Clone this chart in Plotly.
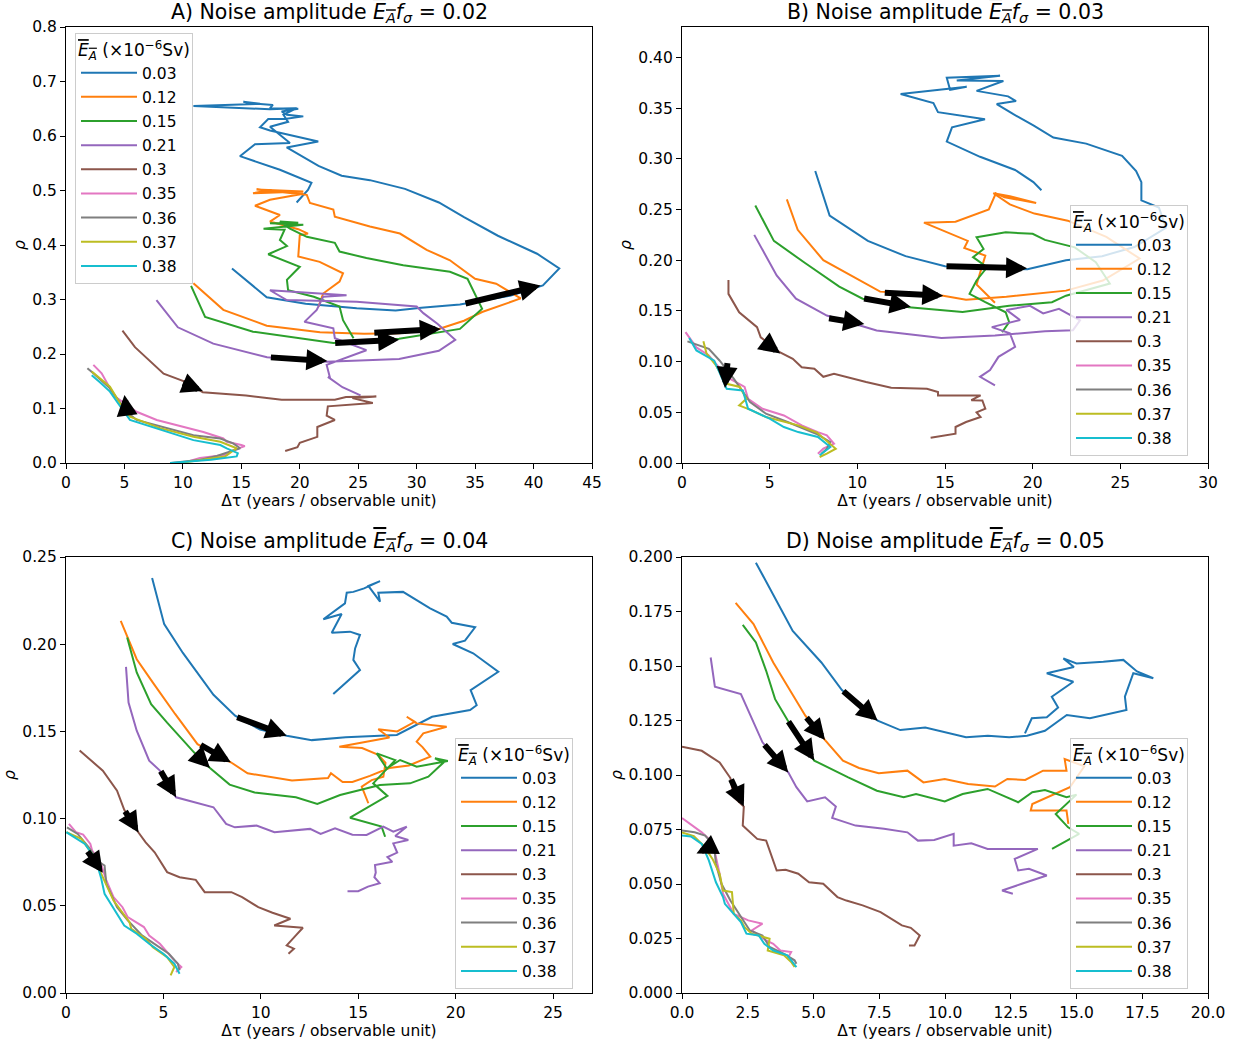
import plotly.graph_objects as go

# ---------------- categories / labels ----------------
E_LABELS = ["0.03", "0.12", "0.15", "0.21", "0.3", "0.35", "0.36", "0.37", "0.38"]
COLORS = ["#1f77b4", "#ff7f0e", "#2ca02c", "#9467bd", "#8c564b",
          "#e377c2", "#7f7f7f", "#bcbd22", "#17becf"]
PANEL_TITLES = ["A", "B", "C", "D"]
NOISE = ["0.02", "0.03", "0.04", "0.05"]

# ---------------- Panel A (noise 0.02): (delta_tau, rho) ----------------
A_003 = [(14.2,0.357),(17.17,0.304),(20.5,0.292),(24.87,0.284),(28.2,0.280),(30.4,0.285),(33.7,0.291),
         (38.0,0.307),(40.8,0.326),(42.2,0.357),(40.3,0.384),(36.95,0.417),(34.05,0.451),(31.9,0.478),
         (29.0,0.503),(26.0,0.519),(23.58,0.527),(21.6,0.545),(18.88,0.579),(21.58,0.590),(17.45,0.610),
         (16.6,0.616),(17.3,0.631),(18.7,0.631),(20.3,0.636),(18.9,0.639),(18.45,0.645),(19.87,0.650),
         (17.45,0.651),(17.7,0.657),(15.74,0.660),(15.17,0.663),(16.6,0.659),(10.9,0.655),(17.45,0.649),
         (19.73,0.651),(18.6,0.639),(19.0,0.626),(17.45,0.617),(19.16,0.587),(16.17,0.585),(14.88,0.563),
         (18.3,0.538),(21.0,0.514),(20.7,0.501),(19.73,0.478)]
A_012 = [(10.9,0.330),(13.46,0.281),(17.17,0.252),(21.73,0.240),(25.5,0.237),(28.5,0.238),(31.9,0.246),
         (34.05,0.261),(35.6,0.277),(38.9,0.302),(36.8,0.329),(35.0,0.338),(33.1,0.368),(32.85,0.372),
         (30.85,0.391),(28.57,0.421),(26.0,0.434),(23.0,0.452),(22.87,0.465),(20.87,0.477),(20.6,0.492),
         (16.3,0.502),(20.3,0.498),(16.0,0.495),(17.45,0.501),(20.3,0.494),(17.45,0.483),(16.17,0.472),
         (18.3,0.455),(17.45,0.443),(19.87,0.429),(20.7,0.421),(20.0,0.418),(19.87,0.379),(21.7,0.369),
         (23.7,0.348),(23.4,0.333),(22.0,0.311),(21.6,0.287)]
A_015 = [(10.7,0.325),(11.9,0.268),(16.0,0.241),(22.87,0.220),(28.5,0.228),(33.7,0.246),(35.6,0.283),
         (34.35,0.338),(32.85,0.351),(28.85,0.363),(25.7,0.376),(23.4,0.388),(23.0,0.404),(20.6,0.415),
         (19.16,0.430),(18.3,0.443),(19.87,0.441),(17.45,0.440),(20.3,0.437),(16.9,0.430),(18.7,0.428),
         (18.3,0.409),(18.9,0.398),(17.3,0.383),(20.0,0.360),(18.9,0.336),(19.0,0.317),(21.2,0.305),
         (23.4,0.287),(23.7,0.262),(24.6,0.229)]
A_021 = [(7.74,0.299),(9.57,0.249),(12.6,0.219),(17.2,0.194),(22.3,0.186),(25.5,0.188),(28.5,0.191),
         (31.9,0.206),(33.3,0.226),(31.8,0.255),(30.57,0.275),(30.0,0.287),(24.87,0.296),(18.88,0.299),
         (17.45,0.317),(24.0,0.308),(22.0,0.305),(21.45,0.281),(20.4,0.259),(22.87,0.247),(23.0,0.229),
         (25.7,0.207),(22.3,0.180),(22.6,0.155),(22.4,0.158),(23.65,0.139),(25.2,0.124)]
A_030 = [(4.83,0.243),(5.9,0.2125),(8.35,0.164),(10.34,0.148),(11.7,0.130),(13.25,0.127),(15.4,0.124),
         (18.45,0.116),(23.0,0.116),(23.95,0.121),(26.55,0.122),(24.5,0.119),(26.25,0.110),(22.4,0.104),
         (22.3,0.087),(23.0,0.079),(21.5,0.066),(21.5,0.048),(20.0,0.037),(19.8,0.029),(18.75,0.022)]
A_035 = [(10.3,0.002),(11.46,0.009),(13.75,0.015),(14.0,0.021),(15.3,0.031),(15.0,0.033),(13.75,0.039),
         (13.46,0.045),(11.75,0.057),(9.75,0.068),(7.76,0.079),(6.04,0.094),(4.19,0.122),(3.76,0.137),
         (3.05,0.1645),(2.34,0.180)]
A_036 = [(9.0,0.000),(11.5,0.006),(12.9,0.013),(14.9,0.027),(14.3,0.036),(13.2,0.045),(10.9,0.051),
         (8.04,0.067),(6.04,0.079),(5.19,0.094),(3.76,0.137),(2.34,0.1645),(1.83,0.174)]
A_037 = [(9.75,0.000),(11.46,0.005),(13.6,0.012),(14.6,0.027),(13.2,0.039),(10.9,0.048),(8.04,0.064),
         (5.47,0.085),(4.6,0.110),(3.76,0.140),(2.2,0.168)]
A_038 = [(8.9,0.000),(10.3,0.002),(12.4,0.006),(14.6,0.012),(14.7,0.018),(13.75,0.027),(13.2,0.033),
         (10.9,0.042),(8.04,0.061),(5.47,0.079),(4.6,0.105),(3.76,0.131),(2.9,0.148),(2.2,0.161)]

# ---------------- Panel B (noise 0.03) ----------------
B_003 = [(7.6,0.288),(8.42,0.244),(10.6,0.219),(12.75,0.204),(15.0,0.194),(19.7,0.191),(21.9,0.200),
         (23.96,0.204),(25.8,0.213),(27.6,0.232),(27.2,0.252),(26.2,0.259),(26.2,0.277),(25.9,0.288),
         (25.1,0.303),(23.05,0.315),(21.18,0.321),(20.04,0.333),(18.9,0.344),(17.95,0.354),(19.05,0.357),
         (18.6,0.3616),(16.8,0.367),(18.33,0.3767),(15.67,0.3773),(18.14,0.382),(15.1,0.380),(15.29,0.368),
         (16.24,0.371),(12.47,0.364),(14.34,0.355),(14.6,0.346),(17.28,0.339),(15.4,0.331),(15.1,0.317),
         (17.0,0.302),(19.0,0.289),(20.04,0.277),(20.5,0.269)]
B_012 = [(5.98,0.260),(6.6,0.230),(8.06,0.200),(9.49,0.186),(11.3,0.169),(14.9,0.165),(16.2,0.161),
         (18.5,0.164),(21.9,0.170),(24.0,0.180),(26.1,0.2017),(24.2,0.223),(22.0,0.239),(20.1,0.246),
         (18.7,0.255),(17.76,0.266),(18.7,0.263),(20.2,0.2565),(18.4,0.262),(17.9,0.266),(17.5,0.250),
         (15.6,0.238),(13.8,0.237),(16.3,0.219),(16.1,0.212),(17.3,0.2045),(17.0,0.186),(16.8,0.176),
         (17.85,0.158)]
B_015 = [(4.18,0.254),(5.24,0.219),(7.04,0.197),(8.97,0.174),(10.3,0.162),(12.95,0.1536),(16.0,0.149),
         (18.66,0.155),(21.1,0.1586),(21.9,0.165),(24.4,0.177),(23.6,0.198),(22.4,0.2127),(20.7,0.220),
         (20.0,0.226),(18.46,0.2275),(16.8,0.2226),(17.2,0.211),(16.6,0.203),(17.4,0.193),(16.8,0.180),
         (16.4,0.1668),(17.3,0.1586),(18.46,0.1487),(18.66,0.139),(18.26,0.129)]
B_021 = [(4.12,0.225),(5.4,0.185),(6.5,0.162),(8.26,0.1454),(11.1,0.1307),(14.8,0.1234),(17.85,0.1257),
         (20.7,0.130),(22.3,0.131),(22.7,0.1406),(21.5,0.152),(20.6,0.1475),(19.85,0.155),(18.5,0.151),
         (19.28,0.141),(17.67,0.134),(18.7,0.128),(19.0,0.1146),(18.05,0.1047),(17.57,0.0916),(17.0,0.085),
         (17.85,0.0765)]
B_030 = [(2.65,0.1806),(2.65,0.1668),(3.26,0.1487),(4.28,0.134),(4.49,0.124),(5.57,0.1093),(6.32,0.1028),
         (6.83,0.0945),(7.55,0.093),(8.06,0.085),(8.67,0.088),(10.5,0.0798),(11.93,0.0742),(13.97,0.0732),
         (14.6,0.070),(14.6,0.0666),(17.03,0.0666),(16.5,0.062),(17.13,0.0617),(17.3,0.0535),(16.8,0.050),
         (17.03,0.0453),(16.2,0.0404),(15.6,0.0355),(15.6,0.0289),(14.18,0.025)]
B_035 = [(0.2,0.129),(0.82,0.114),(1.53,0.106),(1.94,0.0978),(2.75,0.083),(3.57,0.075),(3.77,0.0634),
         (4.59,0.0535),(5.81,0.0469),(6.83,0.0371),(7.75,0.0305),(8.26,0.0272),(8.67,0.019),(8.06,0.0141),
         (7.75,0.0092)]
B_036 = [(0.31,0.120),(1.53,0.1126),(2.14,0.1011),(2.96,0.083),(3.88,0.060),(4.79,0.0486),(6.02,0.0404),
         (7.65,0.0289),(8.46,0.0207),(8.26,0.0141),(7.96,0.0092)]
B_037 = [(1.22,0.120),(1.4,0.108),(1.94,0.0962),(2.55,0.0781),(3.3,0.075),(3.67,0.0634),(3.26,0.0568),
         (3.98,0.0519),(4.79,0.0453),(6.63,0.0371),(7.7,0.030),(8.77,0.0141),(8.26,0.0092),(7.85,0.0059)]
B_038 = [(0.41,0.1234),(0.82,0.111),(1.84,0.101),(2.55,0.0732),(3.47,0.0716),(3.77,0.0535),(5.0,0.0437),
         (5.81,0.0355),(6.63,0.0305),(7.75,0.0256),(8.46,0.0158),(7.85,0.0076)]

# ---------------- Panel C (noise 0.04) ----------------
C_003 = [(4.42,0.238),(5.04,0.2115),(6.0,0.195),(7.57,0.171),(8.68,0.159),(9.96,0.151),(11.33,0.1475),
         (12.62,0.145),(14.36,0.1466),(16.98,0.148),(18.79,0.1584),(20.74,0.1623),(21.08,0.165),
         (20.77,0.1737),(22.19,0.1842),(20.9,0.1948),(19.85,0.2001),(20.48,0.202),(21.0,0.2097),
         (19.8,0.2123),(19.54,0.2158),(18.69,0.2206),(17.3,0.230),(16.03,0.2295),(16.12,0.2244),
         (15.52,0.2334),(16.12,0.2362),(15.3,0.232),(14.75,0.230),(14.41,0.2295),(14.32,0.2234),
         (13.21,0.2143),(14.15,0.2173),(13.64,0.2066),(14.58,0.2072),(15.09,0.2053),(14.84,0.1976),
         (14.75,0.191),(15.09,0.1852),(14.41,0.1785),(13.72,0.1714)]
C_012 = [(2.81,0.2134),(3.63,0.1914),(4.46,0.178),(5.6,0.160),(6.75,0.1427),(8.46,0.1323),(9.32,0.126),
         (11.6,0.1218),(13.45,0.1233),(13.6,0.126),(14.2,0.121),(14.7,0.121),(15.6,0.1245),(16.6,0.129),
         (17.6,0.1305),(18.7,0.1355),(18.3,0.141),(18.0,0.1441),(18.34,0.1489),(19.54,0.1527),(18.0,0.1546),
         (17.49,0.1584),(17.9,0.1555),(17.0,0.150),(16.03,0.1512),(16.6,0.1465),(14.03,0.1412),(15.2,0.1405),
         (16.03,0.1365),(16.4,0.132),(16.29,0.124),(15.69,0.1221),(15.18,0.1183),(15.52,0.1088)]
C_015 = [(3.14,0.2038),(3.63,0.1838),(4.37,0.1656),(5.19,0.155),(6.57,0.138),(7.39,0.129),(8.4,0.1195),
         (9.68,0.115),(11.8,0.1122),(12.9,0.1084),(14.07,0.1135),(16.12,0.1193),(17.66,0.1202),(18.6,0.124),
         (19.37,0.1321),(18.94,0.1346),(19.6,0.133),(18.0,0.1298),(17.15,0.1336),(16.46,0.1288),
         (15.95,0.1374),(16.9,0.1335),(16.3,0.1265),(15.77,0.1202),(16.5,0.113),(14.58,0.1005),
         (16.2,0.0954),(16.38,0.0896)]
C_021 = [(3.08,0.187),(3.21,0.1666),(3.63,0.1504),(4.27,0.1332),(4.82,0.1275),(5.65,0.1122),(7.57,0.1065),
         (8.22,0.097),(8.67,0.095),(9.78,0.096),(10.7,0.0922),(12.01,0.0935),(12.53,0.0941),(13.07,0.0912),
         (13.81,0.0944),(14.7,0.0908),(15.43,0.0906),(16.29,0.0954),(16.8,0.0925),(17.49,0.0954),(16.9,0.090),
         (17.57,0.0877),(16.8,0.0858),(17.0,0.0805),(16.5,0.078),(16.75,0.0752),(15.86,0.0734),(15.9,0.069),
         (15.83,0.0664),(16.1,0.063),(15.5,0.061),(15.0,0.0584),(14.45,0.0584)]
C_030 = [(0.7,0.139),(1.89,0.1275),(2.62,0.116),(2.99,0.105),(3.72,0.092),(4.09,0.0864),(4.55,0.0807),
         (4.82,0.076),(5.19,0.0693),(5.83,0.0664),(6.66,0.0649),(7.12,0.0578),(8.49,0.0578),(9.04,0.055),
         (9.87,0.0492),(10.6,0.046),(11.52,0.0426),(10.69,0.0387),(12.16,0.0374),(11.8,0.033),(11.33,0.0273),
         (11.7,0.0254),(11.42,0.0225)]
C_035 = [(0.15,0.097),(0.51,0.0922),(0.88,0.0908),(1.25,0.0855),(1.34,0.0817),(1.8,0.074),(2.07,0.0645),
         (2.44,0.055),(2.9,0.0492),(3.17,0.0435),(4.0,0.0378),(4.27,0.033),(4.82,0.0282),(5.19,0.0235),
         (5.56,0.0187),(5.92,0.0149),(5.65,0.012)]
C_036 = [(0.05,0.095),(0.6,0.0912),(1.16,0.0836),(1.7,0.075),(1.98,0.0731),(2.07,0.0626),(2.62,0.0492),
         (3.17,0.0416),(3.9,0.033),(4.82,0.0263),(5.28,0.0225),(5.74,0.0168),(5.83,0.013)]
C_037 = [(0.02,0.0922),(0.79,0.0884),(1.34,0.0798),(1.89,0.0664),(2.44,0.053),(3.26,0.0406),(3.35,0.0368),
         (4.09,0.0311),(4.46,0.0263),(5.19,0.0206),(5.56,0.0149),(5.37,0.0101)]
C_038 = [(0.02,0.0922),(0.97,0.0855),(1.52,0.0769),(1.8,0.066),(1.98,0.0569),(2.62,0.0454),(2.99,0.0387),
         (3.63,0.034),(4.27,0.0282),(5.0,0.0225),(5.56,0.0168),(5.83,0.011)]

# ---------------- Panel D (noise 0.05) ----------------
D_003 = [(2.81,0.1974),(4.21,0.1661),(5.3,0.1516),(6.08,0.139),(7.44,0.1249),(8.3,0.1206),(9.25,0.1218),
         (9.99,0.1195),(10.8,0.1173),(11.63,0.118),(12.44,0.1173),(13.12,0.118),(13.8,0.1203),(14.63,0.1275),
         (15.51,0.126),(16.9,0.1298),(16.84,0.1359),(17.16,0.1467),(17.92,0.1444),(17.3,0.1475),(16.78,0.1528),
         (16.02,0.152),(15.0,0.1512),(14.5,0.1535),(14.9,0.1495),(13.87,0.1467),(14.88,0.1428),(14.06,0.1359),
         (14.3,0.131),(13.87,0.1265),(13.3,0.126),(13.04,0.1191)]
D_012 = [(2.04,0.179),(2.72,0.1692),(3.47,0.1516),(4.01,0.1409),(4.69,0.1272),(5.44,0.116),(6.12,0.1066),
         (6.73,0.1032),(7.48,0.1008),(8.57,0.102),(9.18,0.0966),(9.99,0.0982),(10.88,0.0959),(11.9,0.0947),
         (12.37,0.0982),(13.05,0.0977),(13.73,0.102),(14.62,0.102),(14.55,0.1073),(15.3,0.104),(14.75,0.0944),
         (13.32,0.0867),(13.26,0.0837),(14.62,0.0837),(14.69,0.0776)]
D_015 = [(2.31,0.1689),(2.81,0.1608),(3.2,0.1478),(3.54,0.1348),(4.01,0.1252),(5.03,0.1066),(6.32,0.0989),
         (7.41,0.0928),(8.43,0.0898),(8.9,0.0913),(9.99,0.0879),(10.67,0.0913),(11.62,0.0936),(12.78,0.0875),
         (13.32,0.0921),(13.8,0.0931),(14.62,0.0898),(15.0,0.091),(14.21,0.0821),(14.68,0.076),(15.1,0.073),
         (14.07,0.0661)]
D_021 = [(1.09,0.1539),(1.25,0.1405),(2.24,0.1371),(3.06,0.115),(4.04,0.1012),(4.35,0.0944),(4.76,0.0879),
         (5.44,0.0898),(5.85,0.0855),(5.71,0.0803),(6.6,0.0768),(7.68,0.0753),(8.57,0.0737),(8.97,0.0699),
         (9.59,0.0702),(10.33,0.073),(10.33,0.0676),(11.0,0.0687),(11.62,0.0661),(13.53,0.0661),(12.65,0.0615),
         (12.78,0.0562),(13.19,0.057),(13.87,0.0539),(12.92,0.0501),(12.17,0.047),(12.58,0.0455)]
D_030 = [(0.0,0.113),(0.75,0.1111),(1.43,0.1058),(1.84,0.0986),(1.97,0.0898),(2.35,0.0855),(2.31,0.0768),
         (2.86,0.0707),(3.2,0.0699),(3.6,0.0562),(3.94,0.0565),(4.42,0.0547),(4.83,0.0508),(5.37,0.0501),
         (5.91,0.044),(6.25,0.0424),(6.87,0.0402),(7.55,0.0371),(8.36,0.031),(8.7,0.0299),(9.04,0.0264),
         (8.84,0.0218),(8.63,0.0218)]
D_035 = [(0.0,0.0803),(0.41,0.0768),(0.75,0.0737),(1.02,0.0707),(1.22,0.0661),(1.43,0.0547),(1.56,0.0455),
         (1.97,0.0363),(2.52,0.0333),(3.06,0.0318),(2.65,0.0287),(3.2,0.0241),(3.47,0.0226),(3.74,0.0195),
         (4.15,0.0188),(4.01,0.0157)]
D_036 = [(0.0,0.0745),(0.48,0.0737),(0.88,0.0722),(1.22,0.0676),(1.29,0.0592),(1.5,0.0501),(1.84,0.0424),
         (2.24,0.0348),(2.58,0.0287),(3.06,0.0264),(3.33,0.0211),(3.88,0.018),(4.28,0.015),(4.35,0.0134)]
D_037 = [(0.0,0.0737),(0.45,0.072),(0.82,0.0676),(1.16,0.0615),(1.43,0.0547),(1.56,0.047),(1.9,0.0463),
         (1.97,0.0363),(2.24,0.0333),(2.38,0.0302),(2.65,0.0272),(3.33,0.0249),(3.26,0.0195),(3.88,0.0173),
         (4.15,0.0142),(4.28,0.0119)]
D_038 = [(0.0,0.0722),(0.34,0.0718),(0.75,0.0684),(1.02,0.0608),(1.29,0.0508),(1.56,0.044),(1.63,0.0409),
         (2.24,0.0325),(2.45,0.0272),(2.92,0.0264),(3.13,0.0226),(3.47,0.0195),(4.01,0.0173),(4.35,0.0119)]

# ---------------- direction arrows: (tail_x, tail_y, head_x, head_y) ----------------
A_ARROWS = [(34.05,0.292,40.6,0.3255),(26.25,0.239,32.06,0.246),(22.9,0.220,28.5,0.226),
            (17.4,0.194,22.36,0.187),(9.88,0.148,11.7,0.132),(5.2,0.092,5.0,0.125)]
B_ARROWS = [(15.0,0.194,19.68,0.192),(11.48,0.168,14.9,0.165),(10.3,0.1625,13.05,0.154),
            (8.3,0.143,10.4,0.137),(4.59,0.121,5.6,0.108),(2.6,0.100,2.45,0.074)]
C_ARROWS = [(8.71,0.1584,11.33,0.1475),(6.84,0.1427,8.46,0.1323),(6.57,0.138,7.39,0.129),
            (4.82,0.128,5.65,0.1122),(2.99,0.105,3.72,0.092),(1.06,0.082,1.89,0.069)]
D_ARROWS = [(6.08,0.139,7.44,0.1249),(4.69,0.127,5.44,0.116),(4.01,0.1252,5.03,0.1066),
            (3.09,0.1145,4.04,0.1012),(1.84,0.0986,2.35,0.0855),(1.25,0.068,0.55,0.064)]

PANELS = [
    [A_003, A_012, A_015, A_021, A_030, A_035, A_036, A_037, A_038],
    [B_003, B_012, B_015, B_021, B_030, B_035, B_036, B_037, B_038],
    [C_003, C_012, C_015, C_021, C_030, C_035, C_036, C_037, C_038],
    [D_003, D_012, D_015, D_021, D_030, D_035, D_036, D_037, D_038],
]
ARROWS = [A_ARROWS, B_ARROWS, C_ARROWS, D_ARROWS]

# ---------------- layout geometry (page pixels) ----------------
W, H = 1240, 1047
OFF = 0
FONT = "DejaVu Sans"
FS = 15.5


def px(xp):
    return (xp - OFF) / W


def py(yp):
    return 1 - (yp - OFF) / H


XDOM = [(px(66), px(592)), (px(682), px(1208)), (px(66), px(592)), (px(682), px(1208))]
YDOM = [(py(463), py(27)), (py(463), py(27)), (py(993), py(557)), (py(993), py(557))]
XRANGE = [(0, 45), (0, 30), (0, 27), (0, 20)]
YRANGE = [(0, 0.8), (0, 0.43), (0, 0.25), (0, 0.2)]
XDTICK = [5, 5, 5, 2.5]
YDTICK = [0.1, 0.05, 0.05, 0.025]
XFMT = ["d", "d", "d", ".1f"]
YFMT = [".1f", ".2f", ".2f", ".3f"]
LEG_POS = [(px(75), py(33)), (px(1070), py(205)), (px(455), py(738)), (px(1070), py(738))]
TITLE_POS = [(px(329), py(13)), (px(945), py(13)), (px(329), py(542)), (px(945), py(542))]

fig = go.Figure()
annotations = []
OVL = "<span style='text-decoration:overline'><i>E<sub>A</sub></i></span>"

for p in range(4):
    xa = "x" if p == 0 else f"x{p+1}"
    ya = "y" if p == 0 else f"y{p+1}"
    leg = "legend" if p == 0 else f"legend{p+1}"
    for k, series in enumerate(PANELS[p]):
        fig.add_trace(go.Scatter(
            x=[pt[0] for pt in series], y=[pt[1] for pt in series],
            mode="lines", line=dict(color=COLORS[k], width=2),
            name=E_LABELS[k], legendgroup=f"g{p}_{k}", legend=leg,
            xaxis=xa, yaxis=ya, hoverinfo="skip"))
    for (tx, ty, hx, hy) in ARROWS[p]:
        annotations.append(dict(
            x=hx, y=hy, ax=tx, ay=ty, xref=xa, yref=ya, axref=xa, ayref=ya,
            showarrow=True, arrowhead=2, arrowsize=0.7, arrowwidth=6,
            arrowcolor="black", standoff=0, startstandoff=0, text=""))
    tx, ty = TITLE_POS[p]
    annotations.append(dict(
        x=tx, y=ty, xref="paper", yref="paper", showarrow=False,
        xanchor="center", yanchor="middle",
        text=f"{PANEL_TITLES[p]}) Noise amplitude {OVL}<i>f<sub>σ</sub></i> = {NOISE[p]}",
        font=dict(family=FONT, size=20.5, color="black")))

    axis_common = dict(showline=True, linecolor="black", linewidth=1.1, mirror=True,
                       ticks="outside", ticklen=5, tickwidth=1.1, tickcolor="black",
                       showgrid=False, zeroline=False, automargin=False,
                       tickfont=dict(family=FONT, size=FS, color="black"))
    xkey = "xaxis" if p == 0 else f"xaxis{p+1}"
    ykey = "yaxis" if p == 0 else f"yaxis{p+1}"
    fig.update_layout(**{
        xkey: dict(domain=list(XDOM[p]), range=list(XRANGE[p]), anchor=ya,
                   tick0=0, dtick=XDTICK[p], tickformat=XFMT[p],
                   title=dict(text="Δτ (years / observable unit)", standoff=3,
                              font=dict(family=FONT, size=FS, color="black")),
                   **axis_common),
        ykey: dict(domain=list(YDOM[p]), range=list(YRANGE[p]), anchor=xa,
                   tick0=0, dtick=YDTICK[p], tickformat=YFMT[p],
                   title=dict(text="<i>ρ</i>", standoff=2,
                              font=dict(family=FONT, size=FS, color="black")),
                   **axis_common),
    })
    lx, ly = LEG_POS[p]
    fig.update_layout(**{leg: dict(
        x=lx, y=ly, xanchor="left", yanchor="top", xref="paper", yref="paper",
        bgcolor="rgba(255,255,255,0.8)", bordercolor="#cccccc", borderwidth=1,
        tracegroupgap=1, itemwidth=56,
        font=dict(family=FONT, size=FS, color="black"),
        title=dict(text=f"{OVL} (×10<sup>−6</sup>Sv)", side="top",
                   font=dict(family=FONT, size=17, color="black")))})

fig.update_layout(width=W, height=H, margin=dict(l=0, r=0, t=0, b=0, autoexpand=False),
                  paper_bgcolor="white", plot_bgcolor="white",
                  showlegend=True, annotations=annotations)
# place the figure flush with the page corner (removes the browser's default body margin)
fig.write_html("out.html", config={"displayModeBar": False, "staticPlot": False},
               post_script="document.body.style.margin='0px';")
